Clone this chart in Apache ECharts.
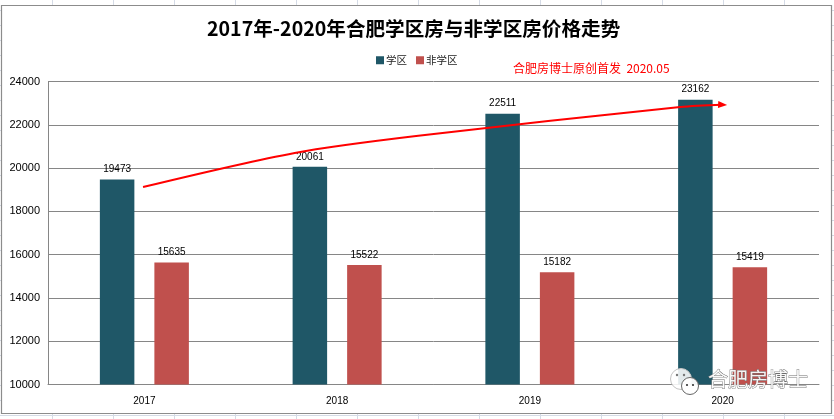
<!DOCTYPE html>
<html><head><meta charset="utf-8">
<style>html,body{margin:0;padding:0;background:#fff}#c{width:834px;height:419px}</style>
<script src="https://cdn.jsdelivr.net/npm/echarts@6/dist/echarts.min.js"></script>
</head><body><div id="c"></div>
<script>
const years = ['2017','2018','2019','2020'];
const xuequ = [19473,20061,22511,23162];
const feiXuequ = [15635,15522,15182,15419];
const trendYears = [2016.993,2017.78,2018.41,2019.78,2020.0];
const trendValues = [19125,20700,21482,22822,22928];
const titleText = '2017年-2020年合肥学区房与非学区房价格走势';
const noteText = '合肥房博士原创首发  2020.05';
const watermark = '合肥房博士';

const cjk = '"Noto Sans CJK SC","Liberation Sans",sans-serif';
const latin = '"Liberation Sans",sans-serif';
const sheetLine = '#d5dbe6';
const deco = [];
const line = (x1,y1,x2,y2,stroke,w) => ({type:'line',silent:true,z:-5,shape:{x1,y1,x2,y2},style:{stroke,lineWidth:w||1}});
for (let x=52; x<834; x+=61) deco.push(line(x+.5,0,x+.5,419,sheetLine));
for (let y=10; y<419; y+=15) deco.push(line(0,y+.5,834,y+.5,sheetLine));
deco.push({type:'rect',silent:true,z:-4,shape:{x:1.5,y:5.5,width:830,height:408},style:{fill:'#fff',stroke:'#8c8c8c',lineWidth:1.2}});
deco.push({type:'text',silent:true,z:20,x:513,y:62,style:{text:noteText,fill:'#f00',font:'12px '+cjk}});
// WeChat-like watermark
const dot = (cx,cy,r,fill) => ({type:'circle',silent:true,z:22,shape:{cx,cy,r},style:{fill}});
deco.push({type:'circle',silent:true,z:20,shape:{cx:681,cy:379,r:10.5},style:{fill:'rgba(255,255,255,.88)',stroke:'#c4c4c4',lineWidth:1}});
deco.push({type:'circle',silent:true,z:21,shape:{cx:690,cy:386,r:8.5},style:{fill:'rgba(255,255,255,.95)',stroke:'#666',lineWidth:1}});
deco.push(dot(677,375,1.2,'#777'),dot(684,375,1.2,'#777'),dot(687,385,1.1,'#333'),dot(693,385,1.1,'#333'));
deco.push({type:'text',silent:true,z:20,x:708,y:369,style:{text:watermark,fill:'rgba(255,255,255,.92)',stroke:'#6e6e6e',lineWidth:.8,font:'20px '+cjk}});

const option = {
  animation:false,
  backgroundColor:'transparent',
  title:{text:titleText,left:202,top:14,textStyle:{fontFamily:cjk,fontSize:19.6,fontWeight:'bold',color:'#000'}},
  legend:{data:['学区','非学区'],left:371,top:50,itemWidth:8,itemHeight:8,itemGap:9,icon:'rect',
    textStyle:{fontFamily:cjk,fontSize:10.5,color:'#222',padding:[0,0,0,-3]}},
  grid:{left:48,right:15,top:81.5,bottom:34.5,containLabel:false},
  xAxis:[
    {type:'category',data:years,axisTick:{show:false},axisLine:{lineStyle:{color:'#868686'}},
      axisLabel:{fontFamily:latin,fontSize:10,color:'#000',margin:12},splitLine:{show:false}},
    {type:'value',min:2016.5,max:2020.5,show:false}
  ],
  yAxis:{type:'value',min:10000,max:24000,interval:2000,
    axisLine:{show:true,lineStyle:{color:'#868686'}},axisTick:{show:false},
    axisLabel:{fontFamily:latin,fontSize:11,color:'#000',margin:8,formatter:v=>String(v)},
    splitLine:{lineStyle:{color:'#868686'}}},
  series:[
    {name:'学区',type:'bar',data:xuequ,barWidth:34.5,barGap:'58%',itemStyle:{color:'#1f5767'},
      label:{show:true,position:'top',distance:5,fontFamily:latin,fontSize:10,color:'#000'}},
    {name:'非学区',type:'bar',data:feiXuequ,barWidth:34.5,itemStyle:{color:'#c0504d'},
      label:{show:true,position:'top',distance:5,fontFamily:latin,fontSize:10,color:'#000'}},
    {name:'走势',type:'line',xAxisIndex:1,smooth:0.3,z:10,showSymbol:true,
      data:trendYears.map((y,i)=>{
        const last = i===trendYears.length-1;
        return {value:[y,trendValues[i]],symbol:last?'triangle':'none',symbolSize:last?[7,9]:0,symbolRotate:-93,
          itemStyle:{color:'#f00'}};
      }),
      lineStyle:{color:'#f00',width:2},label:{show:false},tooltip:{show:false}}
  ],
  graphic:deco
};
echarts.init(document.getElementById('c')).setOption(option);
</script></body></html>
